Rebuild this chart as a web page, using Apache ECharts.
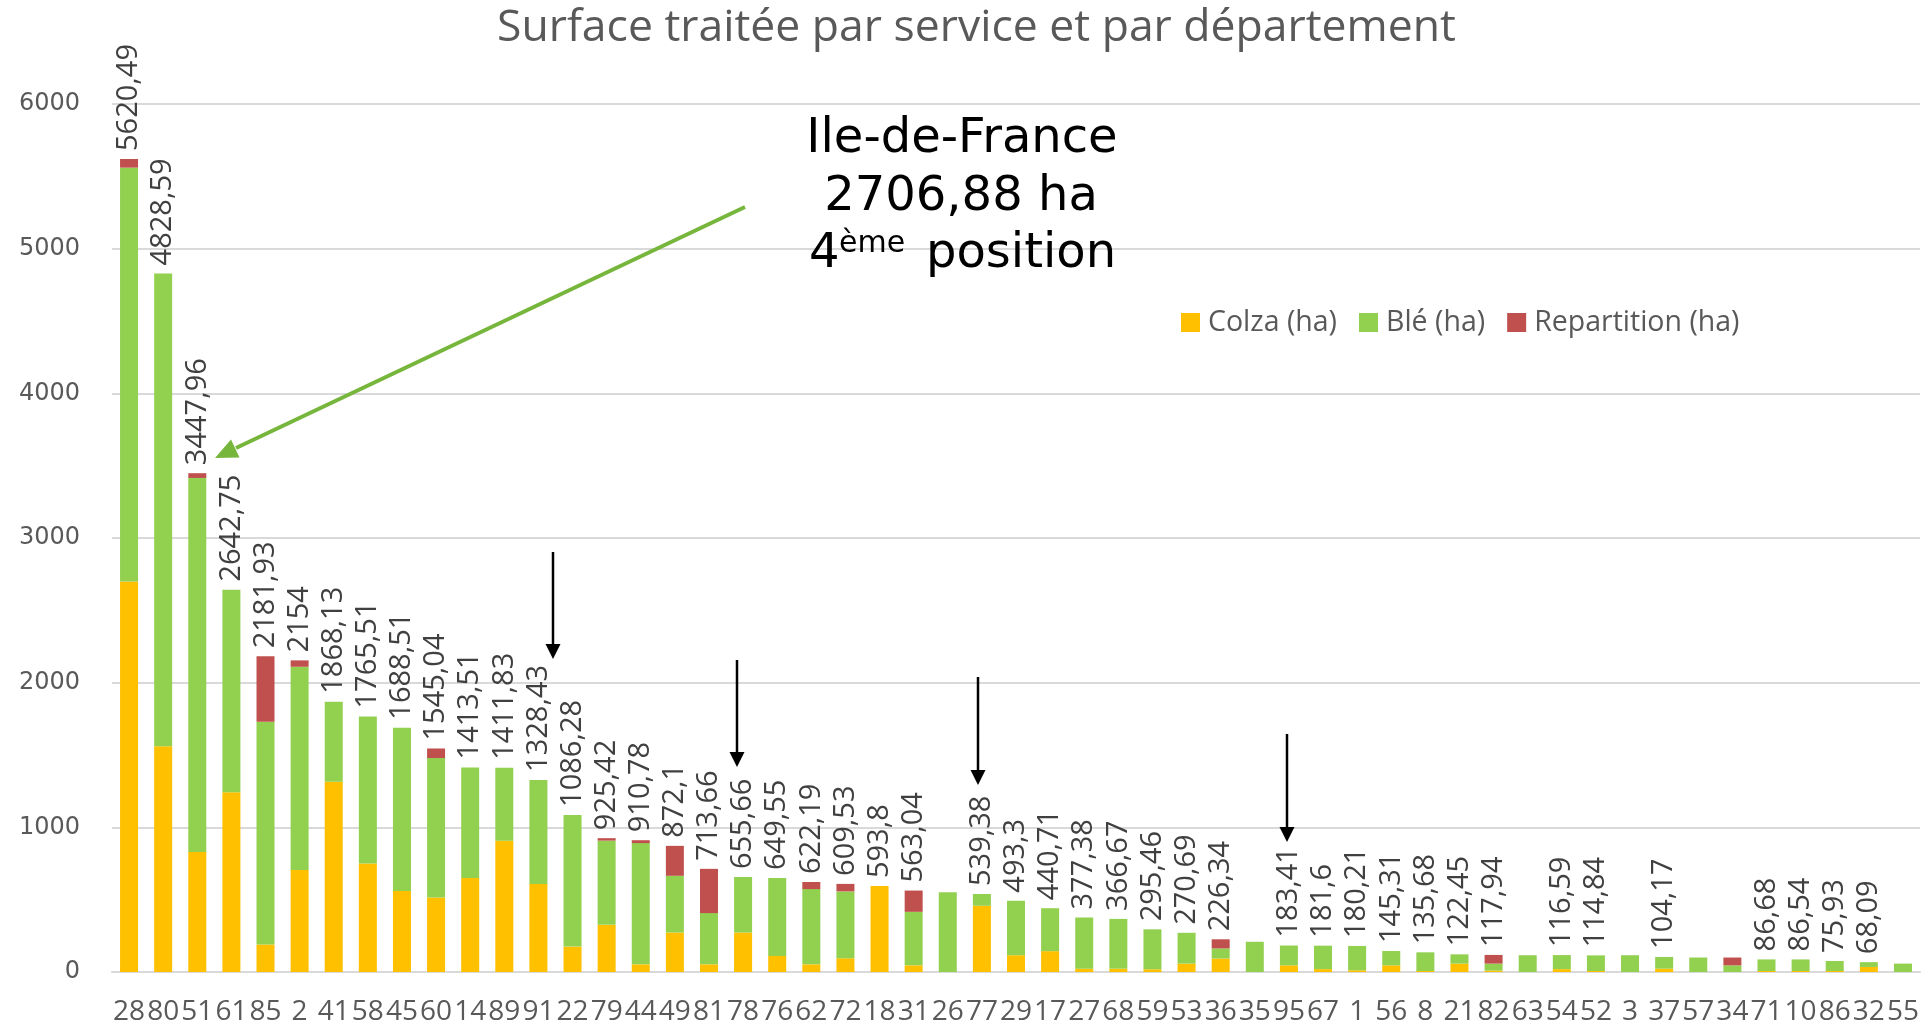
<!DOCTYPE html>
<html><head><meta charset="utf-8">
<script src="https://cdn.jsdelivr.net/npm/echarts@6/dist/echarts.min.js"></script>
<style>html,body{margin:0;padding:0;background:#fff}#c{width:1931px;height:1033px}</style>
</head><body><div id="c"></div>
<script>
var departements = ['28','80','51','61','85','2','41','58','45','60','14','89','91','22','79','44','49','81','78','76','62','72','18','31','26','77','29','17','27','68','59','53','36','35','95','67','1','56','8','21','82','63','54','52','3','37','57','34','71','10','86','32','55'];
var colza = [2700,1560,830,1243,190,705,1315,750,560,515,650,908,608,176,326,53,273,53,273,111,53,95,594,46,0,458,116,144,23,23,19,58,93,0,46,20,12,46,7,58,10,0,20,7,0,23,0,0,7,7,7,35,0];
var ble = [2860,3269,2585,1400,1540,1405,553,1016,1129,964,764,504,720,910,582,838,392,354,383,539,520,462,0,370,551,81,377,297,354,344,276,213,70,209,137,162,168,99,129,64,48,116,97,108,116,81,100,46,80,80,69,33,58];
var repartition = [60,0,33,0,452,44,0,0,0,66,0,0,0,0,17,20,207,306,0,0,49,52,0,147,0,0,0,0,0,0,0,0,63,0,0,0,0,0,0,0,60,0,0,0,0,0,0,54,0,0,0,0,0];
var totaux = [5620.49,4828.59,3447.96,2642.75,2181.93,2154,1868.13,1765.51,1688.51,1545.04,1413.51,1411.83,1328.43,1086.28,925.42,910.78,872.1,713.66,655.66,649.55,622.19,609.53,593.8,563.04,null,539.38,493.3,440.71,377.38,366.67,295.46,270.69,226.34,null,183.41,181.6,180.21,145.31,135.68,122.45,117.94,null,116.59,114.84,null,104.17,null,null,86.68,86.54,75.93,68.09,null];
var yTicks = [0,1000,2000,3000,4000,5000,6000];

var CAL = '"Open Sans", "Noto Sans", sans-serif';
var VER = '"DejaVu Sans", Verdana, sans-serif';

var arrows = [[553,552,659],[737,660,767],[978,677,785],[1287,734,842]];
var graphics = [];
arrows.forEach(function(a){
  graphics.push({type:'line', shape:{x1:a[0],y1:a[1],x2:a[0],y2:a[2]-12}, style:{stroke:'#000',lineWidth:2.5}, z:100});
  graphics.push({type:'polygon', shape:{points:[[a[0]-7.5,a[2]-15],[a[0]+7.5,a[2]-15],[a[0],a[2]]]}, style:{fill:'#000'}, z:100});
});
graphics.push({type:'line', shape:{x1:745,y1:207,x2:236,y2:448}, style:{stroke:'#77B63C',lineWidth:4}, z:100});
graphics.push({type:'polygon', shape:{points:[[215,458],[239.5,457.5],[231,439.5]]}, style:{fill:'#77B63C'}, z:100});
graphics.push({type:'text', x:962, y:164, style:{text:'Ile-de-France', font:'48px "DejaVu Sans"', fill:'#000', textAlign:'center', textVerticalAlign:'bottom'}, z:100});
graphics.push({type:'text', x:961, y:222, style:{text:'2706,88 ha', font:'48px "DejaVu Sans"', fill:'#000', textAlign:'center', textVerticalAlign:'bottom'}, z:100});
graphics.push({type:'text', x:809, y:279, style:{text:'4', font:'48px "DejaVu Sans"', fill:'#000', textAlign:'left', textVerticalAlign:'bottom'}, z:100});
graphics.push({type:'text', x:839, y:259, style:{text:'ème', font:'30px "DejaVu Sans"', fill:'#000', textAlign:'left', textVerticalAlign:'bottom'}, z:100});
graphics.push({type:'text', x:926, y:279, style:{text:'position', font:'48px "DejaVu Sans"', fill:'#000', textAlign:'left', textVerticalAlign:'bottom'}, z:100});

function fmt(v){ return v == null ? '' : String(v).replace('.', ','); }

var chart = echarts.init(document.getElementById('c'), null, {renderer:'canvas'});
chart.setOption({
  animation:false,
  backgroundColor:'#fff',
  title:{text:'Surface traitée par service et par département', left:492, top:1,
    textStyle:{fontFamily:CAL, fontSize:44.5, fontWeight:'normal', color:'#595959'}},
  legend:{left:1176, top:303, itemWidth:19, itemHeight:19, itemGap:22, icon:'rect',
    textStyle:{fontFamily:CAL, fontSize:28.5, color:'#595959', padding:[0,0,0,3]},
    data:['Colza (ha)','Blé (ha)','Repartition (ha)']},
  grid:{left:112, right:11, top:104, bottom:61, containLabel:false},
  xAxis:{type:'category', data:departements,
    axisLine:{lineStyle:{color:'#D9D9D9', width:2}}, axisTick:{show:false},
    axisLabel:{interval:0, margin:26, fontFamily:CAL, fontSize:28, color:'#595959'}},
  yAxis:{type:'value', min:yTicks[0], max:yTicks[yTicks.length-1], interval:1000,
    axisLine:{show:false}, axisTick:{show:false},
    splitLine:{lineStyle:{color:'#D9D9D9', width:2}},
    axisLabel:{margin:32, fontFamily:VER, fontSize:24, color:'#595959',
      formatter:function(v){ return String(v); }}},
  series:[
    {name:'Colza (ha)', type:'bar', stack:'t', data:colza, barWidth:18, itemStyle:{color:'#FFC000'}},
    {name:'Blé (ha)', type:'bar', stack:'t', data:ble, barWidth:18, itemStyle:{color:'#92D050'}},
    {name:'Repartition (ha)', type:'bar', stack:'t', data:repartition, barWidth:18, itemStyle:{color:'#C0504D'},
      label:{show:true, position:'top', rotate:90, align:'left', verticalAlign:'middle', distance:8,
        fontFamily:CAL, fontSize:29, color:'#404040',
        formatter:function(p){ return fmt(totaux[p.dataIndex]); }}}
  ],
  graphic:graphics
});
</script></body></html>
